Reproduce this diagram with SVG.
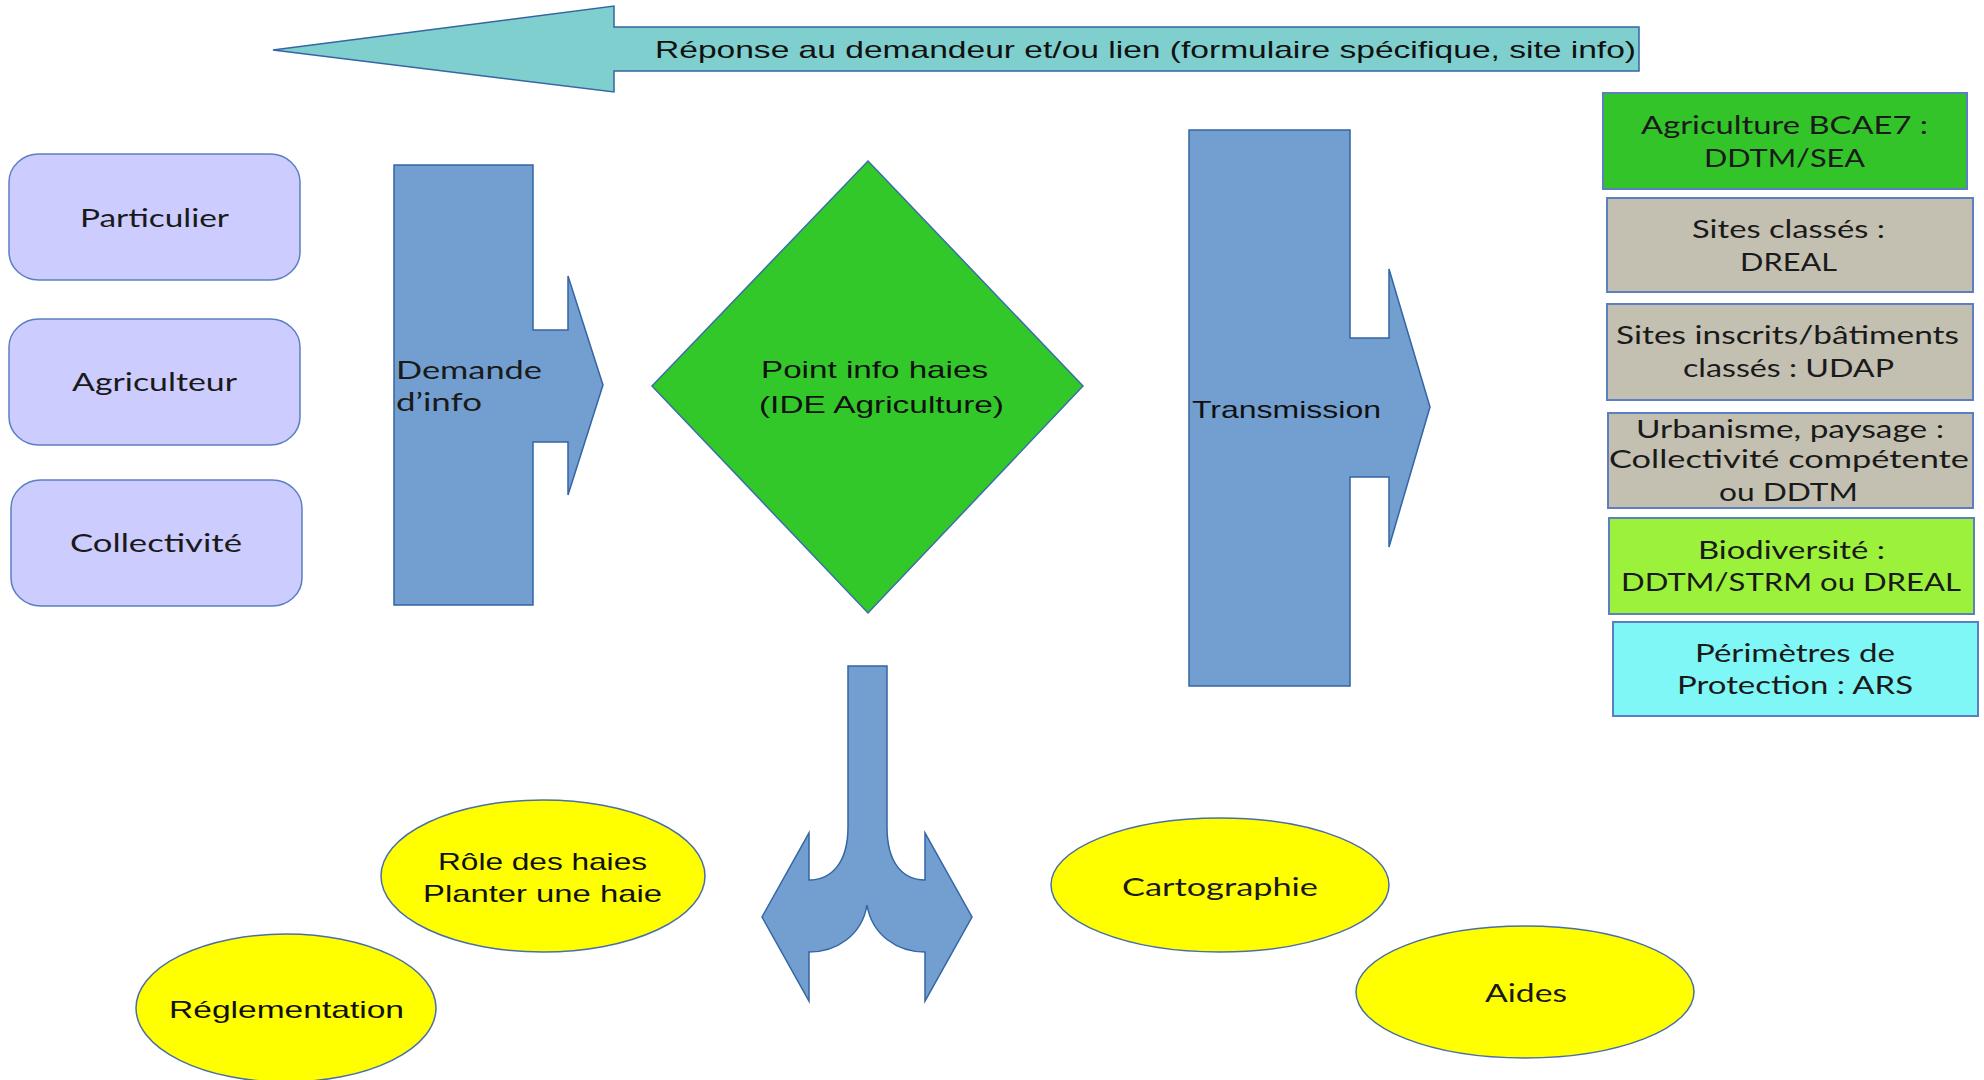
<svg xmlns="http://www.w3.org/2000/svg" width="1984" height="1080" viewBox="0 0 1984 1080">
<style>
.bg{fill:#ffffff}
.arrow{fill:#729fcf;stroke:#3465a4;stroke-width:1.5}
.who{fill:#ccccff;stroke:#5b7fc0;stroke-width:1.5}
.ell{fill:#ffff00;stroke:#4a6fa8;stroke-width:1.5}
.box{stroke:#5b7fc0;stroke-width:2}
.g{font-family:Lato,"Open Sans",sans-serif;font-size:25px;fill:#1a1a1a}
.c{font-family:"Liberation Sans",Arial,sans-serif;font-size:24px;fill:#111111}
</style>
<rect class="bg" x="0" y="0" width="1984" height="1080"/>

<g id="connectors">
  <g id="reponse">
    <polygon points="273,50 614,6 614,27 1639,27 1639,71 614,71 614,92" fill="#7fcfcf" stroke="#3465a4" stroke-width="1.5"/>
    <text class="c" x="655" y="58" textLength="981" lengthAdjust="spacingAndGlyphs">Réponse au demandeur et/ou lien (formulaire spécifique, site info)</text>
  </g>
  <g id="demande">
    <polygon class="arrow" points="394,165 533,165 533,330 568,330 568,276 603,385 568,495 568,442 533,442 533,605 394,605"/>
    <text class="g" x="396" y="379" textLength="146" lengthAdjust="spacingAndGlyphs">Demande</text>
    <text class="g" x="396" y="411" textLength="86" lengthAdjust="spacingAndGlyphs">d’info</text>
  </g>
  <g id="transmission">
    <polygon class="arrow" points="1189,130 1350,130 1350,338 1389,338 1389,269 1430,407 1389,547 1389,477 1350,477 1350,686 1189,686"/>
    <text class="c" x="1192" y="418" textLength="189" lengthAdjust="spacingAndGlyphs">Transmission</text>
  </g>
  <g id="split">
    <path class="arrow" d="M848,666 L887,666 L887,827 C887,862 902,880 925,880 L925,833 L972,917 L925,1001 L925,952 C897,952 872,935 867,905 C862,935 837,952 809,952 L809,1001 L762,917 L809,833 L809,880 C832,880 848,862 848,827 Z"/>
  </g>
</g>

<g id="particulier">
  <rect class="who" x="9" y="154" width="291" height="126" rx="30" ry="28"/>
  <text class="g" x="80" y="227" textLength="149" lengthAdjust="spacingAndGlyphs">Particulier</text>
</g>
<g id="agriculteur">
  <rect class="who" x="9" y="319" width="291" height="126" rx="30" ry="28"/>
  <text class="g" x="72" y="391" textLength="165" lengthAdjust="spacingAndGlyphs">Agriculteur</text>
</g>
<g id="collectivite">
  <rect class="who" x="11" y="480" width="291" height="126" rx="30" ry="28"/>
  <text class="g" x="70" y="552" textLength="172" lengthAdjust="spacingAndGlyphs">Collectivité</text>
</g>

<g id="point-info">
  <polygon points="868,161 1083,386 868,613 652,386" fill="#33c82a" stroke="#3a6fa8" stroke-width="1.5"/>
  <text class="c" x="761" y="378" textLength="227" lengthAdjust="spacingAndGlyphs">Point info haies</text>
  <text class="c" x="759" y="413" textLength="245" lengthAdjust="spacingAndGlyphs">(IDE Agriculture)</text>
</g>

<g id="agri-bcae7">
  <rect class="box" x="1603" y="93" width="364" height="96" fill="#33c42a"/>
  <text class="g" x="1641" y="134" textLength="287" lengthAdjust="spacingAndGlyphs">Agriculture BCAE7 :</text>
  <text class="g" x="1704" y="167" textLength="161" lengthAdjust="spacingAndGlyphs">DDTM/SEA</text>
</g>
<g id="sites-classes">
  <rect class="box" x="1607" y="198" width="366" height="94" fill="#c3c0b1"/>
  <text class="g" x="1692" y="238" textLength="193" lengthAdjust="spacingAndGlyphs">Sites classés :</text>
  <text class="g" x="1740" y="271" textLength="97" lengthAdjust="spacingAndGlyphs">DREAL</text>
</g>
<g id="sites-inscrits">
  <rect class="box" x="1607" y="304" width="366" height="96" fill="#c3c0b1"/>
  <text class="g" x="1616" y="344" textLength="343" lengthAdjust="spacingAndGlyphs">Sites inscrits/bâtiments</text>
  <text class="g" x="1683" y="377" textLength="211" lengthAdjust="spacingAndGlyphs">classés : UDAP</text>
</g>
<g id="urbanisme">
  <rect class="box" x="1608" y="413" width="365" height="95" fill="#c3c0b1"/>
  <text class="g" x="1636" y="438" textLength="308" lengthAdjust="spacingAndGlyphs">Urbanisme, paysage :</text>
  <text class="g" x="1609" y="468" textLength="360" lengthAdjust="spacingAndGlyphs">Collectivité compétente</text>
  <text class="g" x="1719" y="501" textLength="139" lengthAdjust="spacingAndGlyphs">ou DDTM</text>
</g>
<g id="biodiversite">
  <rect class="box" x="1609" y="518" width="365" height="96" fill="#9cf23a"/>
  <text class="g" x="1698" y="559" textLength="187" lengthAdjust="spacingAndGlyphs">Biodiversité :</text>
  <text class="g" x="1621" y="591" textLength="340" lengthAdjust="spacingAndGlyphs">DDTM/STRM ou DREAL</text>
</g>
<g id="perimetres">
  <rect class="box" x="1613" y="622" width="365" height="94" fill="#80f7f7"/>
  <text class="g" x="1695" y="662" textLength="200" lengthAdjust="spacingAndGlyphs">Périmètres de</text>
  <text class="g" x="1677" y="694" textLength="236" lengthAdjust="spacingAndGlyphs">Protection : ARS</text>
</g>

<g id="role-haies">
  <ellipse class="ell" cx="543" cy="876" rx="162" ry="76"/>
  <text class="c" x="438" y="870" textLength="209" lengthAdjust="spacingAndGlyphs">Rôle des haies</text>
  <text class="c" x="423" y="902" textLength="239" lengthAdjust="spacingAndGlyphs">Planter une haie</text>
</g>
<g id="reglementation">
  <ellipse class="ell" cx="286" cy="1008" rx="150" ry="74"/>
  <text class="c" x="169" y="1018" textLength="235" lengthAdjust="spacingAndGlyphs">Réglementation</text>
</g>
<g id="cartographie">
  <ellipse class="ell" cx="1220" cy="885" rx="169" ry="67"/>
  <text class="g" x="1122" y="896" textLength="196" lengthAdjust="spacingAndGlyphs">Cartographie</text>
</g>
<g id="aides">
  <ellipse class="ell" cx="1525" cy="992" rx="169" ry="66"/>
  <text class="g" x="1485" y="1002" textLength="82" lengthAdjust="spacingAndGlyphs">Aides</text>
</g>
</svg>
